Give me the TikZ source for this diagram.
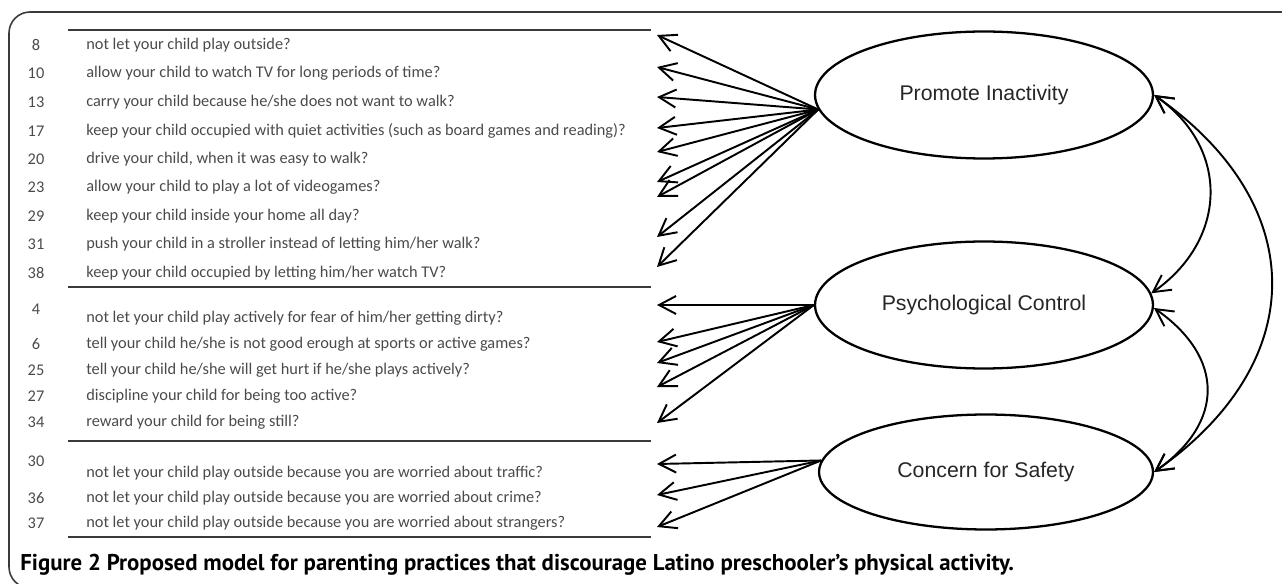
\documentclass[tikz,border=0pt]{standalone}
\usepackage{fontspec}
\setmainfont{Carlito}
\newfontfamily\latentfont{Liberation Sans}
\newfontfamily\captionfont{PT Sans}
\usepackage{tikz}
\usetikzlibrary{shapes}
\usetikzlibrary{arrows.meta}
\definecolor{itemgray}{HTML}{4A4A4A}
\definecolor{rulegray}{HTML}{3A3A3A}
\newcommand{\qrow}[4]{\node[num] (n#1) at (36,#2) {#1}; \node[qtext] (q#1) at (86,#3) {#4};}
\newcommand{\tipat}[2]{\coordinate (#1) at (657,#2);}
\newcommand{\qrule}[1]{\draw[qline] (68,#1) -- (651,#1);}

\begin{document}
\begin{tikzpicture}[x=0.02cm, y=-0.02cm,
    num/.style={text=itemgray, inner sep=0pt, font=\fontsize{9.3}{11}\selectfont},
    qtext/.style={anchor=west, text=itemgray, inner sep=0pt, font=\fontsize{9.3}{11}\selectfont},
    qline/.style={rulegray, line width=1.1pt},
    latent/.style={draw, ellipse, line width=1.3pt, minimum width=6.76cm, minimum height=2.54cm,
        font=\latentfont\fontsize{12.1}{14}\selectfont, text=black!85},
    lnk/.style={line width=1.1pt, -{Straight Barb[length=3.4mm,width=3.6mm]}},
    corr/.style={line width=1.1pt, {Straight Barb[length=3.4mm,width=3.6mm]}-{Straight Barb[length=3.4mm,width=3.6mm]}}]
    \useasboundingbox (0,0) rectangle (1282,584);
    % frame
    \draw[rulegray, line width=0.9pt, rounded corners=12] (1300,12) -- (9,12) -- (9,588) -- (1300,588);
    % items, promote inactivity
    \qrule{30}
    \qrow{8}{45}{45}{not let your child play outside?}
    \qrow{10}{73.5}{73.5}{allow your child to watch TV for long periods of time?}
    \qrow{13}{102}{102}{carry your child because he/she does not want to walk?}
    \qrow{17}{131}{131}{keep your child occupied with quiet activities (such as board games and reading)?}
    \qrow{20}{159}{159}{drive your child, when it was easy to walk?}
    \qrow{23}{187.5}{187.5}{allow your child to play a lot of videogames?}
    \qrow{29}{216}{216}{keep your child inside your home all day?}
    \qrow{31}{244.5}{244.5}{push your child in a stroller instead of letting him/her walk?}
    \qrow{38}{273}{273}{keep your child occupied by letting him/her watch TV?}
    % items, psychological control
    \qrule{287}
    \qrow{4}{309}{318}{not let your child play actively for fear of him/her getting dirty?}
    \qrow{6}{344}{344}{tell your child he/she is not good erough at sports or active games?}
    \qrow{25}{370}{370}{tell your child he/she will get hurt if he/she plays actively?}
    \qrow{27}{396}{396}{discipline your child for being too active?}
    \qrow{34}{422}{422}{reward your child for being still?}
    % items, concern for safety
    \qrule{441}
    \qrow{30}{461}{473}{not let your child play outside because you are worried about traffic?}
    \qrow{36}{498}{498}{not let your child play outside because you are worried about crime?}
    \qrow{37}{523}{523}{not let your child play outside because you are worried about strangers?}
    \qrule{537}
    % factors
    \node[latent] (pi) at (984,95) {Promote Inactivity};
    \node[latent] (pc) at (984,305) {Psychological Control};
    \node[latent, minimum width=6.68cm, minimum height=2.3cm] (cs) at (986,472) {Concern for Safety};
    % arrow ends
    \tipat{a1}{35}
    \tipat{a2}{67}
    \tipat{a3}{97}
    \tipat{a4}{128}
    \tipat{a5}{152}
    \tipat{a6}{182}
    \tipat{a7}{197}
    \tipat{a8}{237}
    \tipat{a9}{267}
    \tipat{b1}{305}
    \tipat{b2}{342}
    \tipat{b3}{363}
    \tipat{b4}{387}
    \tipat{b5}{423}
    \tipat{c1}{464}
    \tipat{c2}{495}
    \tipat{c3}{527}
    % loadings
    \draw[lnk] (pi.185) -- (a1);
    \draw[lnk] (pi.185) -- (a2);
    \draw[lnk] (pi.185) -- (a3);
    \draw[lnk] (pi.185) -- (a4);
    \draw[lnk] (pi.185) -- (a5);
    \draw[lnk] (pi.185) -- (a6);
    \draw[lnk] (pi.185) -- (a7);
    \draw[lnk] (pi.185) -- (a8);
    \draw[lnk] (pi.185) -- (a9);
    \draw[lnk] (pc.west) -- (b1);
    \draw[lnk] (pc.west) -- (b2);
    \draw[lnk] (pc.west) -- (b3);
    \draw[lnk] (pc.west) -- (b4);
    \draw[lnk] (pc.west) -- (b5);
    \draw[lnk] (cs.176) -- (c1);
    \draw[lnk] (cs.176) -- (c2);
    \draw[lnk] (cs.176) -- (c3);
    % correlations
    \draw[corr] (pi.east) to[out=-35, in=35, looseness=1.2] (pc.4);
    \draw[corr] (pc.-1) to[out=-35, in=35, looseness=1.35] (cs.east);
    \draw[corr] (pi.east) to[out=-35, in=35, looseness=1.3] (cs.east);
    % caption
    \node[anchor=west, inner sep=0pt, font=\captionfont\bfseries\fontsize{13}{15}\selectfont] (cap) at (20,565)
        {Figure 2 Proposed model for parenting practices that discourage Latino preschooler’s physical activity.};
\end{tikzpicture}
\end{document}
